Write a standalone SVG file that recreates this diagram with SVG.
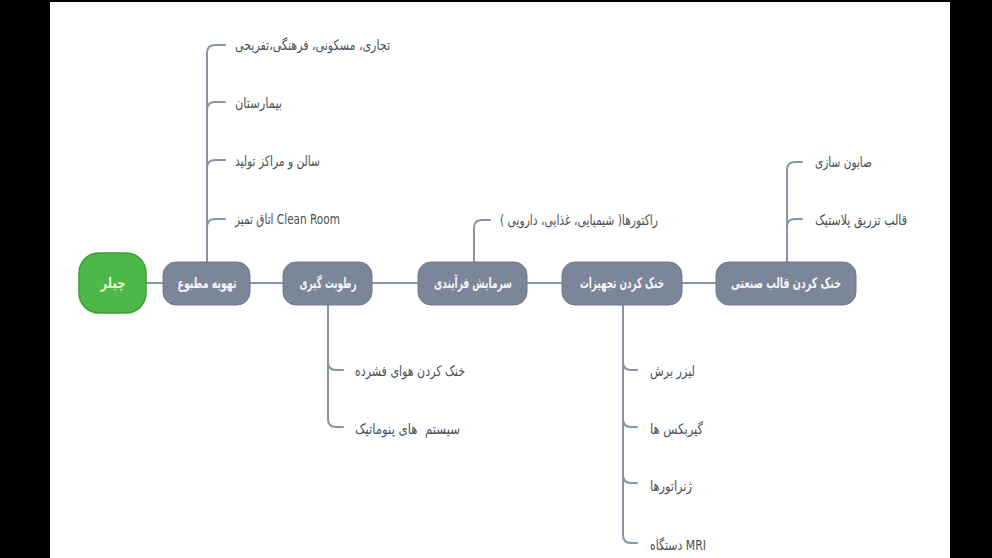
<svg xmlns="http://www.w3.org/2000/svg" width="992" height="558" viewBox="0 0 992 558">
<style>
.node{fill:#7c8699;stroke:#6f798c;stroke-width:1}
.root{fill:#4db848;stroke:#3f9c3b;stroke-width:1.5}
.nt{font-family:"DejaVu Sans","Noto Sans",sans-serif;font-size:14.5px;font-weight:bold;fill:#f4f5f7;text-anchor:middle;dominant-baseline:central}
.rt{fill:#e4f7c8}
.lt{font-family:"DejaVu Sans","Noto Sans",sans-serif;font-size:14.5px;fill:#4a4f57;text-anchor:end;dominant-baseline:central}
.ln{fill:none;stroke:#8b94a4;stroke-width:2;stroke-linecap:round}
</style>
<rect x="0" y="0" width="992" height="558" fill="#000"/>
<rect x="50" y="2" width="900" height="556" fill="#fff"/>
<g id="connectors">
<path class="ln" d="M146 283 H163 M250 283 H283 M372 283 H418 M527 283 H562 M682 283 H716"/>
<path class="ln" d="M207 262 V53 Q207 45 215 45 H225 M207 110 Q207 102 215 102 H225 M207 168 Q207 160 215 160 H225 M207 227 Q207 219 215 219 H225"/>
<path class="ln" d="M474 262 V228 Q474 220 482 220 H490"/>
<path class="ln" d="M787 262 V170 Q787 162 795 162 H802 M787 227 Q787 219 795 219 H802"/>
<path class="ln" d="M328 305 V419 Q328 427 336 427 H343 M328 362 Q328 370 336 370 H343"/>
<path class="ln" d="M623 305 V535 Q623 543 631 543 H637 M623 362 Q623 370 631 370 H637 M623 419 Q623 427 631 427 H637 M623 475 Q623 483 631 483 H637"/>
</g>
<g id="n-chiller"><rect class="root" x="79" y="253" width="67" height="60" rx="20"/><text class="nt rt" x="113" y="283" direction="rtl" textLength="25" lengthAdjust="spacingAndGlyphs">چیلر</text></g>
<g id="n-hvac"><rect class="node" x="163" y="262" width="87" height="43" rx="13"/><text class="nt" x="207" y="283" direction="rtl" textLength="59" lengthAdjust="spacingAndGlyphs">تهویه مطبوع</text></g>
<g id="n-dehum"><rect class="node" x="283" y="262" width="89" height="43" rx="13"/><text class="nt" x="328" y="283" direction="rtl" textLength="57" lengthAdjust="spacingAndGlyphs">رطوبت گیری</text></g>
<g id="n-process"><rect class="node" x="418" y="262" width="109" height="43" rx="13"/><text class="nt" x="473" y="283" direction="rtl" textLength="78" lengthAdjust="spacingAndGlyphs">سرمایش فرآیندی</text></g>
<g id="n-equip"><rect class="node" x="562" y="262" width="120" height="43" rx="13"/><text class="nt" x="622" y="283" direction="rtl" textLength="84" lengthAdjust="spacingAndGlyphs">خنک کردن تجهیزات</text></g>
<g id="n-mold"><rect class="node" x="716" y="262" width="140" height="43" rx="13"/><text class="nt" x="786" y="283" direction="rtl" textLength="110" lengthAdjust="spacingAndGlyphs">خنک کردن قالب صنعتی</text></g>
<g id="l-commercial"><text class="lt" x="235" y="45" direction="rtl" textLength="155" lengthAdjust="spacingAndGlyphs">تجاری، مسکونی، فرهنگی،تفریحی</text></g>
<g id="l-hospital"><text class="lt" x="235" y="103" direction="rtl" textLength="47" lengthAdjust="spacingAndGlyphs">بیمارستان</text></g>
<g id="l-halls"><text class="lt" x="235" y="161" direction="rtl" textLength="85" lengthAdjust="spacingAndGlyphs">سالن و مراکز تولید</text></g>
<g id="l-clean"><text class="lt" x="235" y="219" direction="rtl" textLength="105" lengthAdjust="spacingAndGlyphs">Clean Room اتاق تمیز</text></g>
<g id="l-reactors"><text class="lt" x="500" y="220" direction="rtl" textLength="158" lengthAdjust="spacingAndGlyphs">راکتورها( شیمیایی، غذایی، دارویی )</text></g>
<g id="l-soap"><text class="lt" x="815" y="162" direction="rtl" textLength="57" lengthAdjust="spacingAndGlyphs">صابون سازی</text></g>
<g id="l-plastic"><text class="lt" x="815" y="220" direction="rtl" textLength="92" lengthAdjust="spacingAndGlyphs">قالب تزریق پلاستیک</text></g>
<g id="l-air"><text class="lt" x="355" y="371" direction="rtl" textLength="110" lengthAdjust="spacingAndGlyphs">خنک کردن هوای فشرده</text></g>
<g id="l-pneu"><text class="lt" x="355" y="429" direction="rtl" xml:space="preserve" textLength="105" lengthAdjust="spacingAndGlyphs">سیستم  های پنوماتیک</text></g>
<g id="l-laser"><text class="lt" x="650" y="371" direction="rtl" textLength="45" lengthAdjust="spacingAndGlyphs">لیزر برش</text></g>
<g id="l-gear"><text class="lt" x="650" y="429" direction="rtl" textLength="53" lengthAdjust="spacingAndGlyphs">گیربکس ها</text></g>
<g id="l-gen"><text class="lt" x="650" y="486" direction="rtl" textLength="42" lengthAdjust="spacingAndGlyphs">ژنراتورها</text></g>
<g id="l-mri"><text class="lt" x="650" y="545" direction="rtl" textLength="56" lengthAdjust="spacingAndGlyphs">MRI دستگاه</text></g>
</svg>
